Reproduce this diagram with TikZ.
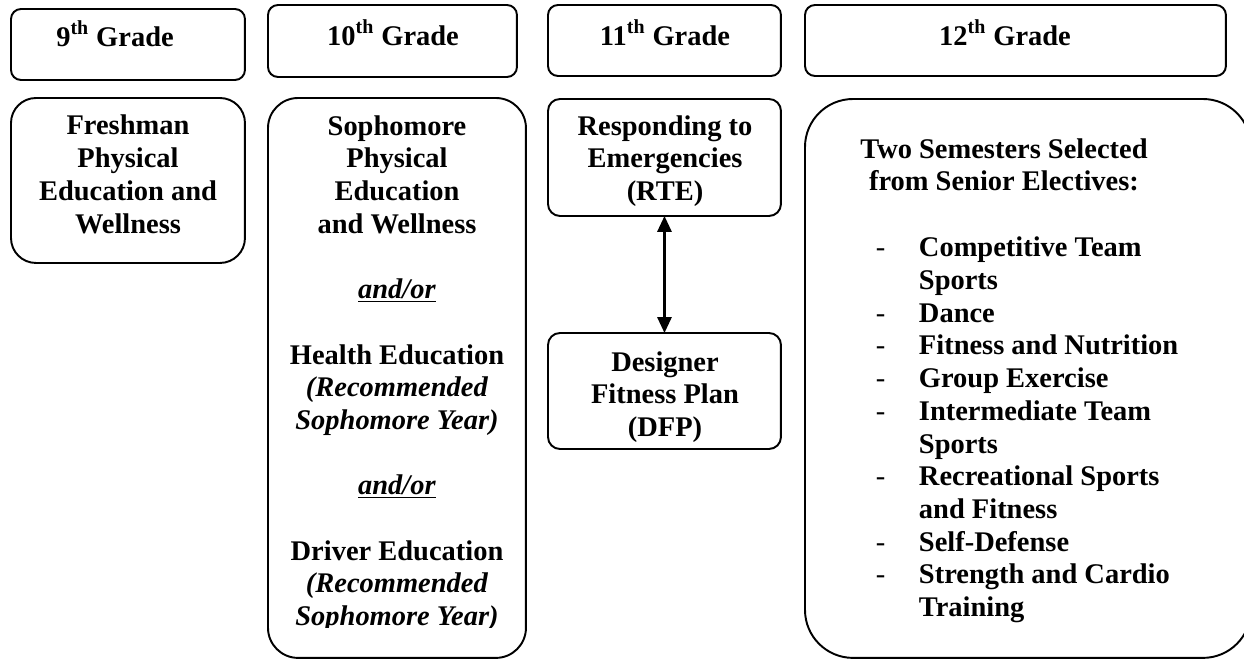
\documentclass[tikz,border=0pt]{standalone}
\usepackage{fontspec}
\setmainfont{Liberation Serif}
\usetikzlibrary{arrows.meta}
\newlength{\px}
\setlength{\px}{0.02cm}
\newcommand{\dashitem}{\makebox[43\px][l]{\mdseries -}}
\newcommand{\itemgap}{\hspace*{43\px}}

\begin{document}
\begin{tikzpicture}[
	x=0.02cm,
	y=-0.02cm,
	line width=1.1pt
]
\tikzset{
    gradebox/.style = {draw=black, rounded corners=5.7pt, inner sep=0pt, outer sep=0pt, anchor=north west},
    coursebox/.style = {draw=black, inner sep=0pt, outer sep=0pt, anchor=north west},
    boxtext/.style = {inner sep=0pt, anchor=base, align=center, font=\fontsize{16.2}{18.6}\selectfont\bfseries},
    listtext/.style = {inner sep=0pt, anchor=base west, align=left, font=\fontsize{16.2}{18.6}\selectfont\bfseries},
    twoway/.style = {line width=1.4pt, {Triangle[length=9pt,width=8pt]}-{Triangle[length=9pt,width=8pt]}},
}
\useasboundingbox (0,0) rectangle (1244,659);
% grade headers
\node[gradebox, minimum width=46.8mm, minimum height=14.2mm] at (11,9) (g9) {};
\node[gradebox, minimum width=49.8mm, minimum height=14.4mm] at (268,5) (g10) {};
\node[gradebox, minimum width=46.6mm, minimum height=14.2mm] at (548,5) (g11) {};
\node[gradebox, minimum width=84.2mm, minimum height=14.2mm] at (805,5) (g12) {};
\node[boxtext] at (115,46) (g9txt) {9\textsuperscript{th} Grade};
\node[boxtext] at (393,45) (g10txt) {10\textsuperscript{th} Grade};
\node[boxtext] at (665,45) (g11txt) {11\textsuperscript{th} Grade};
\node[boxtext] at (1005,45) (g12txt) {12\textsuperscript{th} Grade};
% 9th
\node[coursebox, rounded corners=14.2pt, minimum width=46.8mm, minimum height=33mm] at (11,98) (fresh) {};
\node[boxtext] at (128,233) (freshtxt) {Freshman\\Physical\\Education and\\Wellness};
% 10th
\node[coursebox, rounded corners=17.1pt, minimum width=51.6mm, minimum height=112mm] at (268,98) (soph) {};
\begin{scope}
\clip (268,98) rectangle (526,627);
\node[boxtext] at (397,625.5) (sophtxt) {Sophomore\\Physical\\Education\\and Wellness\\[18.6pt]
	\underline{\textit{and/or}}\\[18.6pt]
	Health Education\\\textit{(Recommended}\\\textit{Sophomore Year)}\\[18.6pt]
	\underline{\textit{and/or}}\\[18.6pt]
	Driver Education\\\textit{(Recommended}\\\textit{Sophomore Year)}};
\end{scope}
% 11th
\node[coursebox, rounded corners=6.8pt, minimum width=46.6mm, minimum height=23.4mm] at (548,99) (rte) {};
\node[boxtext] at (665,200.4) (rtetxt) {Responding to\\Emergencies\\(RTE)};
\node[coursebox, rounded corners=6.8pt, minimum width=46.6mm, minimum height=23.2mm] at (548,333) (dfp) {};
\node[boxtext] at (665,436.4) (dfptxt) {Designer\\Fitness Plan\\(DFP)};
\draw[twoway] (rte) -- (dfp);
% 12th
\node[coursebox, rounded corners=27.3pt, minimum width=89.2mm, minimum height=111.8mm] at (805,99) (senior) {};
\node[boxtext] at (1004,190.7) (seniortxt) {Two Semesters Selected\\from Senior Electives:};
\node[listtext] at (875,616.4) (electives) {\dashitem Competitive Team\\\itemgap Sports\\\dashitem Dance\\
	\dashitem Fitness and Nutrition\\\dashitem Group Exercise\\\dashitem Intermediate Team\\
	\itemgap Sports\\\dashitem Recreational Sports\\\itemgap and Fitness\\\dashitem Self-Defense\\
	\dashitem Strength and Cardio\\\itemgap Training};
\end{tikzpicture}
\end{document}
